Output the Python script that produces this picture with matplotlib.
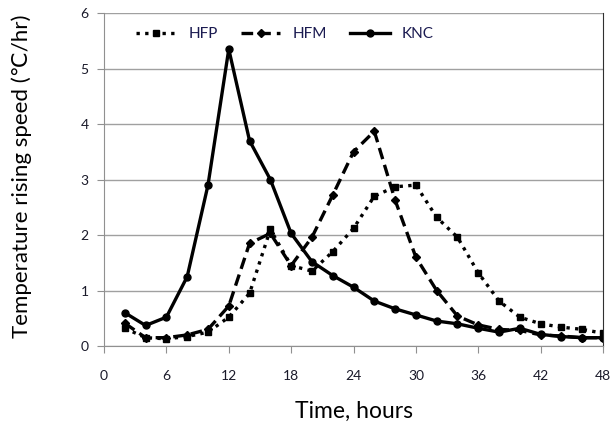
import matplotlib
matplotlib.use("Agg")
import matplotlib.pyplot as plt

plt.rcParams['font.family'] = ['Lato', 'DejaVu Sans']

hours = [2, 4, 6, 8, 10, 12, 14, 16, 18, 20, 22, 24, 26, 28, 30, 32, 34, 36, 38, 40, 42, 44, 46, 48]

hfp = [0.32, 0.15, 0.13, 0.17, 0.25, 0.52, 0.95, 2.1, 1.45, 1.35, 1.7, 2.12,
       2.7, 2.87, 2.9, 2.32, 1.96, 1.32, 0.81, 0.52, 0.4, 0.34, 0.3, 0.23]
hfm = [0.41, 0.15, 0.15, 0.2, 0.3, 0.72, 1.85, 2.03, 1.45, 1.96, 2.72, 3.5,
       3.87, 2.63, 1.6, 1.0, 0.54, 0.38, 0.3, 0.28, 0.2, 0.18, 0.15, 0.15]
knc = [0.6, 0.37, 0.52, 1.25, 2.9, 5.35, 3.7, 3.0, 2.03, 1.52, 1.27, 1.06,
       0.81, 0.67, 0.56, 0.45, 0.4, 0.32, 0.25, 0.32, 0.21, 0.17, 0.15, 0.15]

xticks = [0, 6, 12, 18, 24, 30, 36, 42, 48]
yticks = [0, 1, 2, 3, 4, 5, 6]

fig = plt.figure(figsize=(6.13, 4.23), dpi=100)
ax = fig.add_axes([0.1697, 0.182, 0.814, 0.787])

ax.plot(hours, hfp, color='black', linestyle=(0, (1, 1.6)), linewidth=2.4,
        marker='s', markersize=5, label='HFP')
ax.plot(hours, hfm, color='black', linestyle=(0, (3.5, 1.8)), linewidth=2.4,
        marker='D', markersize=4.5, label='HFM')
ax.plot(hours, knc, color='black', linestyle='-', linewidth=2.4,
        marker='o', markersize=5, label='KNC')

ax.set_xlim(0, 48)
ax.set_ylim(0, 6)
ax.set_xticks(xticks)
ax.set_yticks(yticks)
ax.yaxis.grid(True, color='#a0a0a0', linewidth=1)
ax.set_axisbelow(True)

for s in ['left', 'bottom']:
    ax.spines[s].set_color('#909090')
ax.spines['top'].set_visible(False)
ax.spines['right'].set_color('#303030')
ax.tick_params(axis='both', direction='out', color='#909090', length=5,
               labelsize=10, labelcolor='#1a1a2a', pad=6)
ax.tick_params(axis='x', pad=12)

ax.set_xlabel('Time, hours', fontsize=16.5, labelpad=14)
ax.set_ylabel('Temperature rising speed (\u2103/hr)', fontsize=16)
ax.yaxis.set_label_coords(-0.145, 0.51)

leg = ax.legend(loc='upper center', ncol=3, frameon=False, fontsize=11,
                handlelength=2.6, columnspacing=1.5, handletextpad=0.8,
                bbox_to_anchor=(0.363, 1.0))
for t in leg.get_texts():
    t.set_color('#1a1a50')

fig.savefig('out.png', dpi=100)
